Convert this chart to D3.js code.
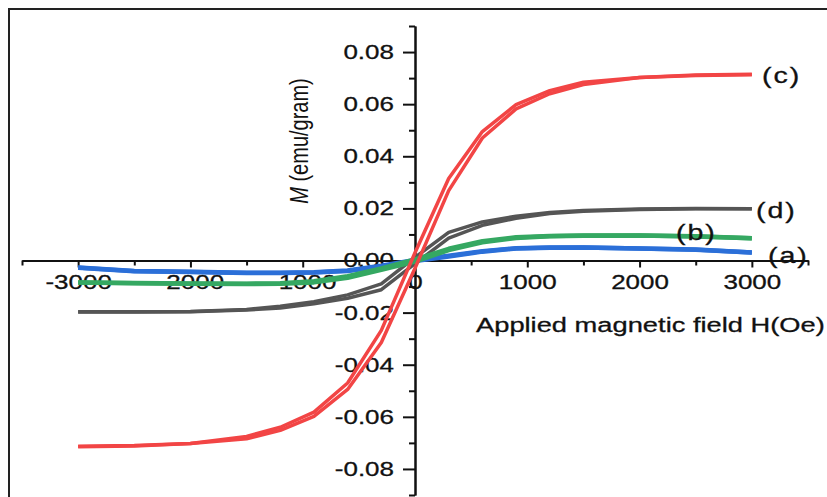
<!DOCTYPE html>
<html>
<head>
<meta charset="utf-8">
<script src="https://cdn.jsdelivr.net/npm/d3@7"></script>
<style>
  body { margin: 0; background: #fff; }
  svg { display: block; font-family: "Liberation Sans", Arial, sans-serif; }
</style>
</head>
<body>
<svg id="chart" width="827" height="497"></svg>
<script>
// Applied field values (Oe), shared by every sample
const field = [-3000, -2500, -2000, -1500, -1200, -900, -600, -300, 0, 300, 600, 900, 1200, 1500, 2000, 2500, 3000];

// each sample: upper branch (sweep down) and lower branch (sweep up), emu/gram
const aUpper = [-0.0027, -0.0040, -0.0043, -0.0047, -0.0047, -0.0045, -0.0038, -0.0020, 0.0002, 0.0018, 0.0036, 0.0047, 0.0050, 0.0050, 0.0046, 0.0042, 0.0031];
const aLower = [-0.0028, -0.0041, -0.0044, -0.0048, -0.0048, -0.0046, -0.0040, -0.0023, -0.0002, 0.0015, 0.0034, 0.0046, 0.0049, 0.0050, 0.0046, 0.0041, 0.0031];

const bUpper = [-0.0084, -0.0086, -0.0088, -0.0089, -0.0087, -0.0080, -0.0060, -0.0030, 0.0004, 0.0045, 0.0074, 0.0089, 0.0094, 0.0096, 0.0096, 0.0093, 0.0085];
const bLower = [-0.0084, -0.0087, -0.0089, -0.0090, -0.0089, -0.0084, -0.0066, -0.0036, -0.0004, 0.0040, 0.0070, 0.0086, 0.0093, 0.0095, 0.0096, 0.0092, 0.0085];

const cUpper = [-0.0713, -0.0710, -0.0702, -0.0675, -0.0640, -0.0582, -0.0470, -0.0268, 0.0030, 0.0315, 0.0495, 0.0598, 0.0652, 0.0684, 0.0702, 0.0712, 0.0715];
const cLower = [-0.0715, -0.0712, -0.0702, -0.0684, -0.0652, -0.0598, -0.0495, -0.0315, -0.0030, 0.0268, 0.0470, 0.0582, 0.0640, 0.0675, 0.0702, 0.0710, 0.0713];

const dUpper = [-0.0197, -0.0197, -0.0196, -0.0188, -0.0176, -0.0158, -0.0132, -0.0090, 0.0012, 0.0108, 0.0148, 0.0170, 0.0184, 0.0192, 0.0198, 0.0200, 0.0199];
const dLower = [-0.0198, -0.0198, -0.0197, -0.0190, -0.0182, -0.0166, -0.0145, -0.0112, -0.0012, 0.0086, 0.0135, 0.0162, 0.0180, 0.0189, 0.0196, 0.0199, 0.0199];

const xMajor = [-3000, -2000, -1000, 0, 1000, 2000, 3000];
const xMinor = [-3500, -2500, -1500, -500, 500, 1500, 2500, 3500];
const yMajor = [-0.08, -0.06, -0.04, -0.02, 0, 0.02, 0.04, 0.06, 0.08];
const yMinor = [-0.09, -0.07, -0.05, -0.03, -0.01, 0.01, 0.03, 0.05, 0.07, 0.09];

// drawn in this order so red ends up on top
const samples = [
  { name: "(d)", upper: dUpper, lower: dLower, color: "#555555", width: 3.5 },
  { name: "(a)", upper: aUpper, lower: aLower, color: "#2b6fd8", width: 4.5 },
  { name: "(b)", upper: bUpper, lower: bLower, color: "#35a862", width: 4.5 },
  { name: "(c)", upper: cUpper, lower: cLower, color: "#f24545", width: 3.5 }
];

// the original picture is stretched sideways, so text is too
const SX = 1.3;

const svg = d3.select("#chart");

const x = d3.scaleLinear().domain([-3500, 3500]).range([22, 808]);
const y = d3.scaleLinear().domain([-0.09, 0.09]).range([495, 26]);

// outer frame
svg.append("rect")
  .attr("x", 9).attr("y", 9)
  .attr("width", 830).attr("height", 500)
  .attr("fill", "none")
  .attr("stroke", "#222")
  .attr("stroke-width", 2);

// x axis through y = 0
const gx = svg.append("g").attr("transform", `translate(0,${y(0)})`);
gx.append("g")
  .call(d3.axisBottom(x).tickValues(xMinor).tickSize(5).tickSizeOuter(0).tickFormat(""));
gx.append("g")
  .call(d3.axisBottom(x).tickValues(xMajor).tickSize(7).tickSizeOuter(0).tickPadding(7)
    .tickFormat(d => String(d)));

// y axis through x = 0
const gy = svg.append("g").attr("transform", `translate(${x(0)},0)`);
gy.append("g")
  .call(d3.axisLeft(y).tickValues(yMinor).tickSize(6).tickSizeOuter(0).tickFormat(""));
gy.append("g")
  .call(d3.axisLeft(y).tickValues(yMajor).tickSize(12).tickSizeOuter(0)
    .tickFormat(d => d.toFixed(2)));

svg.selectAll(".domain, .tick line")
  .attr("stroke", "#111")
  .attr("stroke-width", 2);

gx.selectAll("text")
  .attr("font-size", 20)
  .attr("fill", "#111")
  .attr("stroke", "#111").attr("stroke-width", 0.3)
  .attr("transform", `scale(${SX},1)`);

gy.selectAll("text")
  .attr("font-size", 20)
  .attr("fill", "#111")
  .attr("stroke", "#111").attr("stroke-width", 0.3)
  .attr("x", -21 / SX)
  .attr("transform", `scale(${SX},1)`);

// axis titles
svg.append("text")
  .attr("transform", `translate(476,332) scale(${SX},1)`)
  .attr("font-size", 21)
  .attr("fill", "#111")
  .attr("stroke", "#111").attr("stroke-width", 0.3)
  .text("Applied magnetic field H(Oe)");

const yTitle = svg.append("text")
  .attr("transform", `translate(308,141) scale(${SX},1) rotate(-90)`)
  .attr("text-anchor", "middle")
  .attr("font-size", 20)
  .attr("fill", "#111");
yTitle.append("tspan").attr("font-style", "italic").text("M");
yTitle.append("tspan").text(" (emu/gram)");

// hysteresis loops
const line = d3.line()
  .x(d => x(d[0]))
  .y(d => y(d[1]));

samples.forEach(s => {
  [s.upper, s.lower].forEach(branch => {
    svg.append("path")
      .datum(field.map((h, i) => [h, branch[i]]))
      .attr("fill", "none")
      .attr("stroke", s.color)
      .attr("stroke-width", s.width)
      .attr("stroke-linejoin", "round")
      .attr("d", line);
  });
});

// sample labels
const labels = [
  { text: "(c)", x: 762, y: 83 },
  { text: "(d)", x: 756, y: 218 },
  { text: "(b)", x: 676, y: 240 },
  { text: "(a)", x: 768, y: 263 }
];
svg.selectAll(".lab")
  .data(labels)
  .join("text")
  .attr("class", "lab")
  .attr("transform", d => `translate(${d.x},${d.y}) scale(${SX},1)`)
  .attr("font-size", 22)
  .attr("letter-spacing", 1.5)
  .attr("fill", "#111")
  .attr("stroke", "#111").attr("stroke-width", 0.3)
  .text(d => d.text);
</script>
</body>
</html>
